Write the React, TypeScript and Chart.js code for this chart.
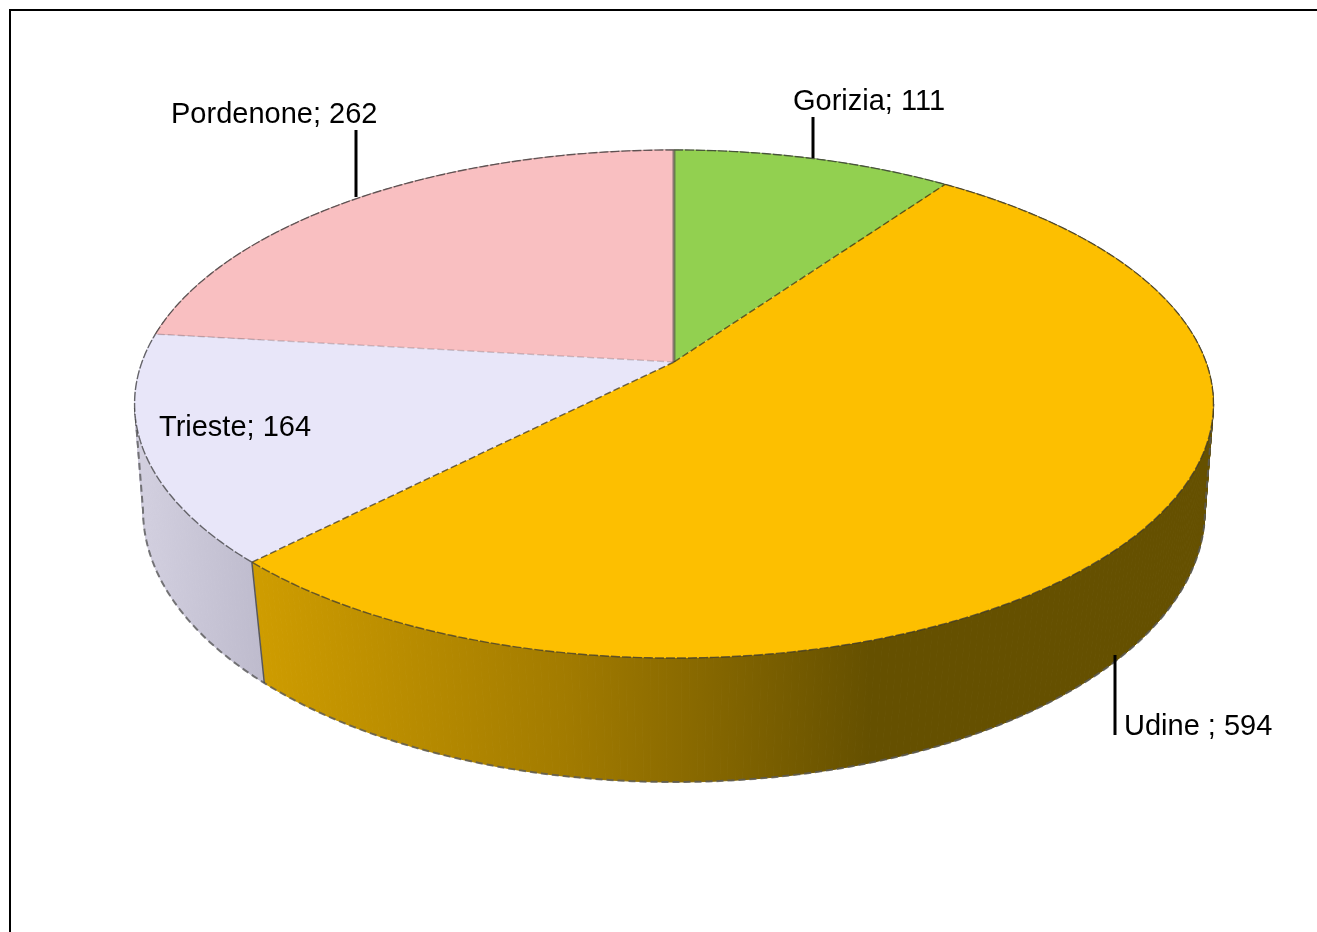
import React, { useEffect, useRef } from "react";
import { Chart, registerables } from "chart.js";

Chart.register(...registerables);

const categories = ["Gorizia", "Udine ", "Trieste", "Pordenone"];
const seriesValues = [111, 594, 164, 262];
const topColors = ["#92D050", "#FDBF00", "#E8E6F9", "#F9BFC1"];

// Perspective disc: unit circle -> screen
const TOP = { cx: 674, R: 532, a: -187.2, b: 362, c: 0.1654 };
const BOT = { cx: 674, R: 525.5, a: -272 + 510 * 0.1435, b: 510 - 272 * 0.1435, c: 0.1435 };
type Disc = typeof TOP;

function project(d: Disc, theta: number, r = 1): [number, number] {
  const t = theta + Math.PI / 2;
  const u = r * Math.sin(t);
  const v = r * Math.cos(t);
  const w = 1 + d.c * v;
  return [d.cx + (d.R * u) / w, (d.a * v + d.b) / w];
}

function rimPoints(d: Disc, a0: number, a1: number): [number, number][] {
  const n = Math.max(2, Math.ceil(Math.abs(a1 - a0) * 80));
  const pts: [number, number][] = [];
  for (let i = 0; i <= n; i++) pts.push(project(d, a0 + ((a1 - a0) * i) / n));
  return pts;
}

function trace(ctx: CanvasRenderingContext2D, pts: [number, number][], close = false) {
  ctx.beginPath();
  pts.forEach((p, i) => (i ? ctx.lineTo(p[0], p[1]) : ctx.moveTo(p[0], p[1])));
  if (close) ctx.closePath();
}

function sideFill(ctx: CanvasRenderingContext2D, index: number) {
  if (index === 2) {
    const g = ctx.createLinearGradient(143, 0, 262, 0);
    g.addColorStop(0, "#D2CFDF");
    g.addColorStop(1, "#BEBBCD");
    return g;
  }
  if (index === 1) {
    const g = ctx.createLinearGradient(262, 0, 870, 0);
    g.addColorStop(0, "#CE9C00");
    g.addColorStop(0.5, "#A27B00");
    g.addColorStop(1, "#655000");
    return g;
  }
  return index === 0 ? "#5d7f33" : "#a67f80";
}

const labelSpots = [
  { x: 793, y: 110 },
  { x: 1124, y: 735 },
  { x: 159, y: 436 },
  { x: 171, y: 123 },
];
const leaders = [
  [813, 117, 813, 158],
  [1115, 655, 1115, 735],
  [356, 130, 356, 197],
];

const pie3d = {
  id: "pie3d",
  beforeDatasetDraw(chart: any, args: any) {
    const ctx: CanvasRenderingContext2D = chart.ctx;
    const arcs = chart.getDatasetMeta(args.index).data;
    ctx.save();
    ctx.lineJoin = "round";

    // side walls, as strips joining the upper and the lower rim
    arcs.forEach((arc: any, i: number) => {
      const top = rimPoints(TOP, arc.startAngle, arc.endAngle);
      const bot = rimPoints(BOT, arc.startAngle, arc.endAngle);
      const fill = sideFill(ctx, i);
      ctx.fillStyle = fill;
      ctx.strokeStyle = fill;
      ctx.lineWidth = 1;
      for (let k = 0; k < top.length - 1; k++) {
        trace(ctx, [top[k], top[k + 1], bot[k + 1], bot[k]], true);
        ctx.fill();
        ctx.stroke();
      }
    });
    // lower rim and the two silhouette edges
    const aR = Math.asin(BOT.c);
    const aL = Math.PI - aR;
    const aTopR = Math.asin(TOP.c);
    const aTopL = Math.PI - aTopR;
    trace(ctx, [project(TOP, aTopR), ...rimPoints(BOT, aR, aL), project(TOP, aTopL)]);
    ctx.strokeStyle = "rgba(90,90,90,0.8)";
    ctx.lineWidth = 2;
    ctx.setLineDash([7, 4]);
    ctx.stroke();
    ctx.setLineDash([]);
    // seam between walls
    const seam = arcs[1].endAngle;
    trace(ctx, [project(TOP, seam), project(BOT, seam)]);
    ctx.strokeStyle = "rgba(70,70,70,0.85)";
    ctx.lineWidth = 1.5;
    ctx.stroke();

    // top faces
    arcs.forEach((arc: any, i: number) => {
      const pts = [project(TOP, 0, 0), ...rimPoints(TOP, arc.startAngle, arc.endAngle)];
      trace(ctx, pts, true);
      ctx.fillStyle = topColors[i];
      ctx.fill();
    });
    // top face edges
    arcs.forEach((arc: any) => {
      trace(ctx, rimPoints(TOP, arc.startAngle, arc.endAngle));
      ctx.strokeStyle = "rgba(50,50,50,0.7)";
      ctx.lineWidth = 1.4;
      ctx.setLineDash([9, 2]);
      ctx.stroke();
      ctx.setLineDash([]);
    });
    arcs.forEach((arc: any, i: number) => {
      trace(ctx, [project(TOP, 0, 0), project(TOP, arc.startAngle)]);
      ctx.strokeStyle = i === 0 ? "rgba(90,90,80,0.7)" : i === 3 ? "rgba(120,100,110,0.35)" : "rgba(60,50,20,0.75)";
      ctx.lineWidth = i === 0 ? 3 : 1.4;
      ctx.setLineDash(i === 0 ? [] : [7, 3]);
      ctx.stroke();
      ctx.setLineDash([]);
    });
    ctx.restore();
    return false;
  },
  afterDatasetsDraw(chart: any) {
    const ctx: CanvasRenderingContext2D = chart.ctx;
    ctx.save();
    ctx.strokeStyle = "#000";
    ctx.lineWidth = 3;
    leaders.forEach(([x0, y0, x1, y1]) => {
      ctx.beginPath();
      ctx.moveTo(x0, y0);
      ctx.lineTo(x1, y1);
      ctx.stroke();
    });
    ctx.fillStyle = "#000";
    ctx.font = '29px "Liberation Sans", Arial, sans-serif';
    ctx.textBaseline = "alphabetic";
    categories.forEach((name, i) => {
      ctx.fillText(`${name}; ${seriesValues[i]}`, labelSpots[i].x, labelSpots[i].y);
    });
    ctx.restore();
  },
};

export default function App() {
  const ref = useRef<HTMLCanvasElement>(null);
  useEffect(() => {
    document.body.style.margin = "0";
    document.body.style.overflow = "hidden";
    const chart = new Chart(ref.current as HTMLCanvasElement, {
      type: "pie",
      data: {
        labels: categories,
        datasets: [{ data: seriesValues, backgroundColor: topColors, borderWidth: 0 }],
      },
      options: {
        responsive: false,
        animation: false,
        plugins: { legend: { display: false }, tooltip: { enabled: false } },
      },
      plugins: [pie3d],
    } as any);
    return () => chart.destroy();
  }, []);
  return (
    <div style={{ position: "relative", width: 1317, height: 932, overflow: "hidden", background: "#fff" }}>
      <canvas ref={ref} width={1317} height={932} style={{ display: "block" }} />
      <div
        style={{
          position: "absolute",
          left: 9,
          top: 9,
          width: 1306,
          height: 1000,
          border: "2px solid #000",
          pointerEvents: "none",
        }}
      />
    </div>
  );
}
